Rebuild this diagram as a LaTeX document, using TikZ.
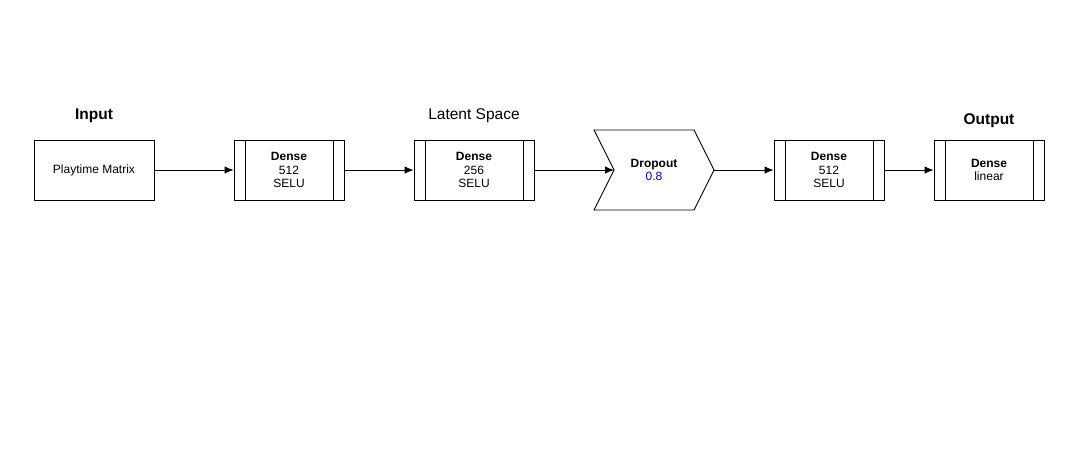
\documentclass[tikz,border=0pt]{standalone}
\usepackage{fontspec}
\setmainfont{Liberation Sans}
\usetikzlibrary{arrows.meta}
\definecolor{darkblue}{RGB}{0,0,150}

\begin{document}
\begin{tikzpicture}[x=1pt,y=-1pt,
  box/.style={draw, line width=0.9pt, minimum height=60pt, align=center,
    font=\fontsize{12}{13.8}\selectfont, inner sep=0pt},
  layer/.style={box, path picture={
    \draw[line width=0.9pt] ([xshift=11pt]path picture bounding box.north west) -- ([xshift=11pt]path picture bounding box.south west);
    \draw[line width=0.9pt] ([xshift=-11pt]path picture bounding box.north east) -- ([xshift=-11pt]path picture bounding box.south east);}},
  title/.style={font=\fontsize{15.5}{18}\selectfont},
  link/.style={-{Latex[length=9pt,width=7.5pt]}, line width=0.9pt}]
\useasboundingbox (0,0) rectangle (1066,448);
\fill[white] (0,0) rectangle (1066,448);

\node[box, minimum width=120pt] (input) at (94,170) {Playtime Matrix};
\node[layer, minimum width=110pt] (dense1) at (289,170) {\textbf{Dense}\\512\\SELU};
\node[layer, minimum width=120pt] (dense2) at (474,170) {\textbf{Dense}\\256\\SELU};
% dropout chevron
\draw[line width=0.9pt] (594,130) -- (694,130) -- (714,170) -- (694,210) -- (594,210) -- (614,170) -- cycle;
\coordinate (dropin) at (614,170);
\coordinate (dropout) at (714,170);
\node[align=center, font=\fontsize{12}{13.8}\selectfont] (drop) at (654,170) {\textbf{Dropout}\\\textcolor{darkblue}{0.8}};
\node[layer, minimum width=110pt] (dense3) at (829,170) {\textbf{Dense}\\512\\SELU};
\node[layer, minimum width=110pt] (dense4) at (989,170) {\textbf{Dense}\\linear};

\node[title, font=\bfseries\fontsize{15.5}{18}\selectfont] (intitle) at (94,116) {Input};
\node[title] (lattitle) at (474,116) {Latent Space};
\node[title, font=\bfseries\fontsize{15.5}{18}\selectfont] (outtitle) at (989,121) {Output};

\draw[link] (input) -- (dense1);
\draw[link] (dense1) -- (dense2);
\draw[link] (dense2) -- (dropin);
\draw[link] (dropout) -- (dense3);
\draw[link] (dense3) -- (dense4);
\end{tikzpicture}
\end{document}
